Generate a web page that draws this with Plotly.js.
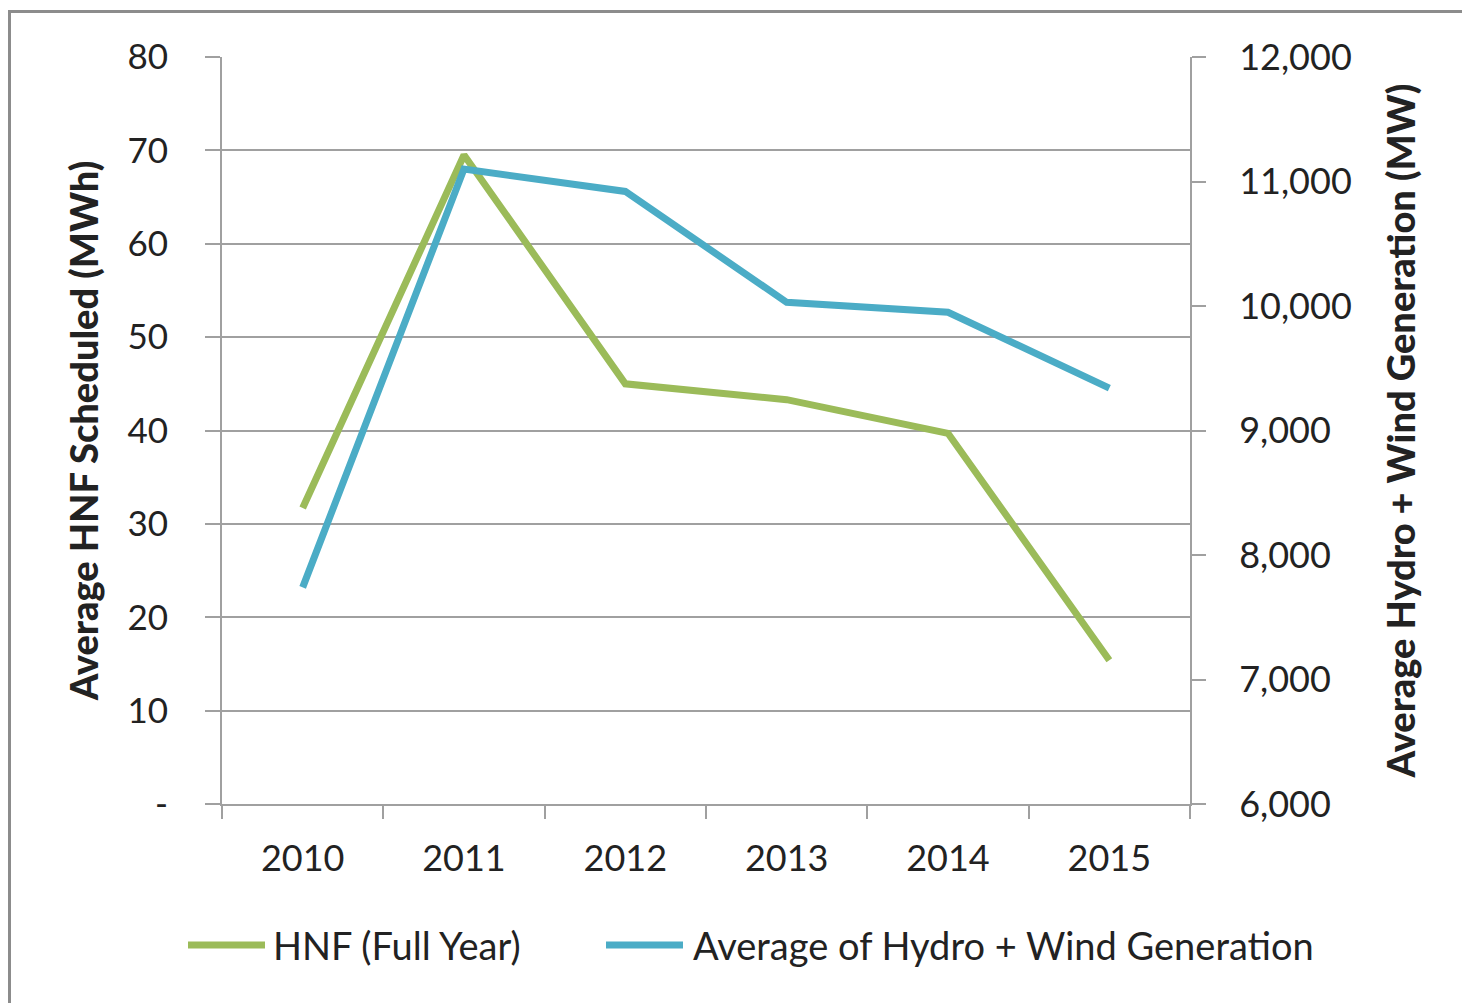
<!DOCTYPE html>
<html>
<head>
<meta charset="utf-8">
<script src="https://cdn.plot.ly/plotly-3.0.1.min.js"></script>
<style>
  body { margin: 0; background: #fff; }
  #chart { width: 1462px; height: 1003px; }
  #frame { position: absolute; left: 8px; top: 10px; width: 1460px; height: 1000px;
           border-left: 3px solid #8c8c8c; border-top: 3px solid #8c8c8c; pointer-events: none; }
</style>
</head>
<body>
<div id="chart"></div>
<div id="frame"></div>
<script>
// chart data
var years = ["2010", "2011", "2012", "2013", "2014", "2015"];
var hnfFullYear = [31.7, 69.5, 45.0, 43.3, 39.7, 15.4];
var hydroWind = [7740, 11100, 10920, 10030, 9950, 9340];
var leftTicks = [0, 10, 20, 30, 40, 50, 60, 70, 80];
var leftTickText = ["-", "10", "20", "30", "40", "50", "60", "70", "80"];

var green = "#9bbb59";
var blue = "#4bacc6";
var gray = "#a0a0a0";
var font = "Lato, 'Open Sans', sans-serif";

// pixel -> paper helpers (plot area 222..1190 x 57..804)
function px(x) { return (x - 222) / 968; }
function py(y) { return (804 - y) / 747; }

var trace1 = {
    x: years,
    y: hnfFullYear,
    type: "scatter",
    mode: "lines",
    name: "HNF (Full Year)",
    line: { color: green, width: 7 }
};

var trace2 = {
    x: years,
    y: hydroWind,
    type: "scatter",
    mode: "lines",
    name: "Average of Hydro + Wind Generation",
    yaxis: "y2",
    line: { color: blue, width: 7 }
};

var layout = {
    width: 1462,
    height: 1003,
    margin: { l: 222, r: 272, t: 57, b: 199 },
    paper_bgcolor: "#fff",
    plot_bgcolor: "#fff",
    showlegend: false,
    font: { family: font, color: "#222", size: 35 },
    xaxis: {
        type: "category",
        range: [-0.5, 5.5],
        tickson: "boundaries",
        ticks: "outside",
        ticklen: 13,
        tickwidth: 2,
        tickcolor: gray,
        showline: true,
        linecolor: gray,
        linewidth: 2,
        showgrid: false,
        ticklabelstandoff: 22,
        tickfont: { size: 36 }
    },
    yaxis: {
        range: [0, 80],
        tickvals: leftTicks,
        ticktext: leftTickText,
        ticks: "outside",
        ticklen: 15,
        tickwidth: 2,
        tickcolor: gray,
        showline: true,
        linecolor: gray,
        linewidth: 2,
        gridcolor: gray,
        gridwidth: 2,
        zeroline: false,
        ticklabelstandoff: 30,
        tickfont: { size: 35 },
        title: { text: "Average HNF Scheduled (MWh)", font: { size: 38, weight: 900 }, standoff: 17 }
    },
    yaxis2: {
        overlaying: "y",
        side: "right",
        range: [6000, 12000],
        dtick: 1000,
        tickformat: ",",
        ticks: "outside",
        ticklen: 14,
        tickwidth: 2,
        tickcolor: gray,
        showline: true,
        linecolor: gray,
        linewidth: 2,
        showgrid: false,
        zeroline: false,
        ticklabelstandoff: 26,
        tickfont: { size: 36 },
        title: { text: "Average Hydro + Wind Generation (MW)", font: { size: 38, weight: 900 }, standoff: 38 }
    },
    shapes: [
        { type: "line", xref: "paper", yref: "paper", x0: px(188), x1: px(265), y0: py(945), y1: py(945),
          line: { color: green, width: 7 } },
        { type: "line", xref: "paper", yref: "paper", x0: px(606), x1: px(683), y0: py(945), y1: py(945),
          line: { color: blue, width: 7 } }
    ],
    annotations: [
        { text: "HNF (Full Year)", xref: "paper", yref: "paper", x: px(271), y: py(945),
          xanchor: "left", yanchor: "middle", showarrow: false, font: { size: 38 } },
        { text: "Average of Hydro + Wind Generation", xref: "paper", yref: "paper", x: px(691), y: py(945),
          xanchor: "left", yanchor: "middle", showarrow: false, font: { size: 38 } }
    ]
};

Plotly.newPlot("chart", [trace1, trace2], layout, { displayModeBar: false });
</script>
</body>
</html>
